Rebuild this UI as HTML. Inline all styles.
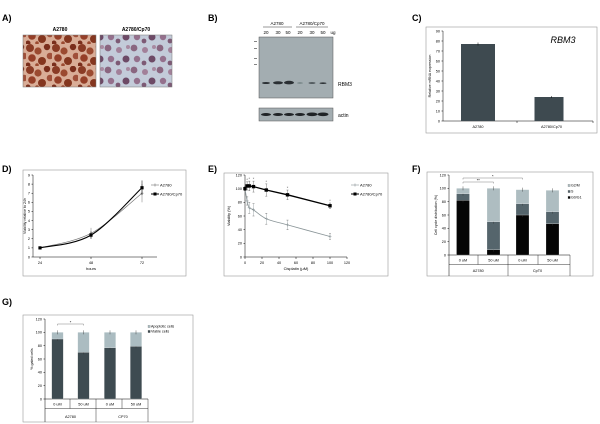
<!DOCTYPE html>
<html><head><meta charset="utf-8"><style>
body{margin:0;background:#fff;width:600px;height:424px;overflow:hidden}
svg{display:block;font-family:"Liberation Sans",sans-serif}
</style></head><body>
<svg id="fig" width="600" height="424" viewBox="0 0 600 424" xmlns="http://www.w3.org/2000/svg">
<defs>
<pattern id="cellsA" width="26" height="22" patternUnits="userSpaceOnUse">
<rect width="26" height="22" fill="#d9ad97"/>
<circle cx="4" cy="4" r="4" fill="#8a3b25"/><circle cx="12" cy="7" r="3.6" fill="#9b4a30"/><circle cx="21" cy="3" r="3.2" fill="#7a2e1c"/>
<circle cx="6" cy="14" r="3.8" fill="#953f28"/><circle cx="16" cy="17" r="4" fill="#84361f"/><circle cx="24" cy="12" r="3.3" fill="#a0503a"/>
<circle cx="2" cy="21" r="2.5" fill="#7a2e1c"/><circle cx="11" cy="21" r="1.8" fill="#9b4a30"/>
</pattern>
<pattern id="cellsB" width="26" height="22" patternUnits="userSpaceOnUse">
<rect width="26" height="22" fill="#c3cbd9"/>
<circle cx="4" cy="4" r="3.4" fill="#8a6680"/><circle cx="15" cy="6" r="3" fill="#a28099"/><circle cx="22" cy="15" r="3.5" fill="#6d4a66"/>
<circle cx="7" cy="15" r="3.2" fill="#94708c"/><circle cx="14" cy="19" r="2.4" fill="#7d5a75"/><circle cx="24" cy="3" r="2" fill="#a88aa1"/>
</pattern>
</defs>
<g font-weight="bold" font-size="9" fill="#000">
<text x="2" y="21">A)</text>
<text x="208" y="21">B)</text>
<text x="412" y="21">C)</text>
<text x="2" y="172">D)</text>
<text x="208" y="172">E)</text>
<text x="412" y="172">F)</text>
<text x="2" y="305">G)</text>
</g>
<g>
<text x="60" y="31" font-size="5" font-weight="bold" text-anchor="middle">A2780</text>
<text x="136" y="31" font-size="5" font-weight="bold" text-anchor="middle">A2780/Cp70</text>
<rect x="23" y="35" width="73" height="52" fill="url(#cellsA)" stroke="#777" stroke-width="0.5"/>
<rect x="100" y="35" width="72" height="52" fill="url(#cellsB)" stroke="#777" stroke-width="0.5"/>
</g>
<g>
<text x="277" y="25" font-size="4.5" text-anchor="middle">A2780</text>
<text x="312" y="25" font-size="4.5" text-anchor="middle">A2780/Cp70</text>
<line x1="263" y1="27" x2="292" y2="27" stroke="#000" stroke-width="0.4"/>
<line x1="296" y1="27" x2="328" y2="27" stroke="#000" stroke-width="0.4"/>
<g font-size="4.5" text-anchor="middle">
<text x="266" y="34">20</text><text x="278" y="34">30</text><text x="288" y="34">50</text><text x="300" y="34">20</text><text x="312" y="34">30</text><text x="323" y="34">50</text><text x="333" y="34">ug</text></g>
<rect x="259" y="37" width="74" height="61" fill="#a3adb1" stroke="#555" stroke-width="0.5"/>
<g fill="#333"><rect x="254" y="41" width="3" height="0.6"/><rect x="254" y="48" width="3" height="0.6"/><rect x="254" y="58" width="3" height="0.6"/><rect x="254" y="64" width="3" height="0.6"/></g>
<g fill="#2a2f33">
<ellipse cx="266" cy="83" rx="4" ry="1"/><ellipse cx="278" cy="82.8" rx="5" ry="1.5"/><ellipse cx="289" cy="82.6" rx="5" ry="1.8"/>
<ellipse cx="300" cy="83" rx="3" ry="0.6" fill="#677"/><ellipse cx="312" cy="83" rx="3.5" ry="0.9" fill="#4a5256"/><ellipse cx="323" cy="83.2" rx="3.5" ry="0.8"/></g>
<text x="338" y="86" font-size="5">RBM3</text>
<rect x="259" y="108" width="74" height="13" fill="#a3adb1" stroke="#555" stroke-width="0.5"/>
<g fill="#1f2326"><ellipse cx="266" cy="114.5" rx="5" ry="1.5"/><ellipse cx="278" cy="114.5" rx="5" ry="1.5"/><ellipse cx="289" cy="114.5" rx="5" ry="1.5"/><ellipse cx="300" cy="114.5" rx="5" ry="1.5"/><ellipse cx="312" cy="114.3" rx="5.5" ry="1.8"/><ellipse cx="323" cy="114.3" rx="5.5" ry="1.8"/></g>
<text x="338" y="117" font-size="5">actin</text>
</g>
<g id="charts"></g>
</svg>
<script>
const cLabels=['A2780','A2780/Cp70'];
const cValues=[77,24];
const cErr=[1.5,1];
const cTicks=[0,10,20,30,40,50,60,70,80,90];
const dHours=[24,48,72];
const dA2780=[1,2.6,7.0];
const dCp70=[1,2.4,7.6];
const dErrA=[0.1,0.6,1.0];
const dErrC=[0.1,0.4,0.8];
const dTicks=[0,1,2,3,4,5,6,7,8,9];
const eDose=[0,2.5,5,10,25,50,100];
const eA2780=[100,82,72,69,56,47,30];
const eCp70=[100,104,104,103,98,91,75];
const eErrA=[2,6,8,9,8,7,4];
const eErrC=[3,6,7,8,9,7,4];
const eTicks=[0,20,40,60,80,100,120];
const fCats=['0 uM','50 uM','0 uM','50 uM'];
const fGroups=['A2780','CpT0'];
const fG0=[82,8,60,47];
const fS=[10,42,17,18];
const fG2=[8,50,21,32];
const fTicks=[0,20,40,60,80,100,120];
const gCats=['0 uM','50 uM','0 uM','50 uM'];
const gGroups=['A2780','CP70'];
const gViable=[90,70,77,79];
const gApop=[10,30,23,21];
const gTicks=[0,20,40,60,80,100,120];

const NS='http://www.w3.org/2000/svg';
const root=document.getElementById('charts');
function mk(tag,a,p){const e=document.createElementNS(NS,tag);for(const k in a)e.setAttribute(k,a[k]);(p||root).appendChild(e);return e;}
function txt(x,y,s,size,anchor,p){const t=mk('text',{x:x,y:y,'font-size':size,'text-anchor':anchor||'middle'},p);t.textContent=s;return t;}
function ln(x1,y1,x2,y2,p,c,w){return mk('line',{x1:x1,y1:y1,x2:x2,y2:y2,stroke:c||'#000','stroke-width':w||0.5},p);}
function yAxis(g,x,sy,ticks,top){ln(x,sy(ticks[0]),x,top,g);ticks.forEach(v=>{ln(x-1.5,sy(v),x,sy(v),g);const t=txt(x-3,sy(v)+1.3,String(v),3.8,'end',g);});}
function smooth(pts){let d='M'+pts[0][0]+','+pts[0][1];for(let i=0;i<pts.length-1;i++){const p0=pts[i-1]||pts[i],p1=pts[i],p2=pts[i+1],p3=pts[i+2]||p2;d+=' C'+(p1[0]+(p2[0]-p0[0])/6)+','+(p1[1]+(p2[1]-p0[1])/6)+' '+(p2[0]-(p3[0]-p1[0])/6)+','+(p2[1]-(p3[1]-p1[1])/6)+' '+p2[0]+','+p2[1];}return d;}

// ---- C ----
(function(){
const g=mk('g',{});


const box=mk('rect',{x:426,y:27,width:171,height:106,fill:'none',stroke:'#999','stroke-width':0.6},g);


const sy=v=>121-v*(90/90);
yAxis(g,443,sy,cTicks,31);
ln(443,121,593,121,g);ln(517,121,517,123,g);ln(593,121,593,123,g);
const xc=[478,551.5];
cValues.forEach((v,i)=>{
const b=mk('rect',{x:xc[i]-17,y:sy(v),width:34-5*i,height:121-sy(v),fill:'#3e4a50'},g);


ln(xc[i],sy(v+cErr[i]),xc[i],sy(v-cErr[i]),g);
const t=txt(xc[i],128,cLabels[i],3.8,'middle',g);


});
const yl=txt(0,0,'Relative mRNA expression',3.6,'middle',g);yl.setAttribute('transform','translate(431,76) rotate(-90)');


const r=txt(563,43,'RBM3',9,'middle',g);r.setAttribute('font-style','italic');


})();

// ---- D ----
(function(){
const g=mk('g',{});


const box=mk('rect',{x:23,y:170,width:163,height:106,fill:'none',stroke:'#999','stroke-width':0.6},g);


const sx=h=>40+(h-24)*(102/48), sy=v=>257-v*(82/9);
yAxis(g,33,sy,dTicks,175);
ln(33,257,157,257,g);
dHours.forEach(h=>{ln(sx(h),257,sx(h),259,g);const t=txt(sx(h),264,String(h),3.8,'middle',g);});
const xt=txt(91,270,'hours',4,'middle',g);


const yt=txt(0,0,'Viability relative to 24h',3.6,'middle',g);yt.setAttribute('transform','translate(26,216) rotate(-90)');


[[dA2780,dErrA,'#777',0.7,'a2780'],[dCp70,dErrC,'#000',1.1,'cp70']].forEach(([vals,err,c,w,n])=>{
const pts=vals.map((v,i)=>[sx(dHours[i]),sy(v)]);
const p=mk('path',{d:smooth(pts),fill:'none',stroke:c,'stroke-width':w},g);


vals.forEach((v,i)=>{ln(sx(dHours[i]),sy(v+err[i]),sx(dHours[i]),sy(v-err[i]),g,c,0.5);
const m=n==='cp70'?mk('rect',{x:sx(dHours[i])-1.6,y:sy(v)-1.6,width:3.2,height:3.2,fill:'#000'},g):mk('path',{d:'M'+(sx(dHours[i])-1.5)+','+sy(v)+'h3M'+sx(dHours[i])+','+(sy(v)-1.5)+'v3',stroke:c,'stroke-width':0.6},g);

});
});
ln(151,185,159,185,g,'#777',0.6);mk('path',{d:'M155,183.5v3',stroke:'#777','stroke-width':0.6},g);
const l1=txt(160,186.5,'A2780',4,'start',g);
ln(151,194,159,194,g,'#000',1);mk('rect',{x:153.5,y:192.5,width:3,height:3},g);
const l2=txt(160,195.5,'A2780/Cp70',4,'start',g);
})();

// ---- E ----
(function(){
const g=mk('g',{});


const box=mk('rect',{x:224,y:173,width:164,height:103,fill:'none',stroke:'#999','stroke-width':0.6},g);


const sx=d=>245+d*(102/120), sy=v=>257-v*(82/120);
yAxis(g,245,sy,eTicks,175);
ln(245,257,347,257,g);
eTicks.forEach(d=>{ln(sx(d),257,sx(d),259,g);const t=txt(sx(d),264,String(d),3.8,'middle',g);});
const xt=txt(296,270,'Cisplatin (µM)',4,'middle',g);


const yt=txt(0,0,'Viability (%)',3.8,'middle',g);yt.setAttribute('transform','translate(230,216) rotate(-90)');


[[eA2780,eErrA,'#8a9598',0.8,'a2780'],[eCp70,eErrC,'#000',1.3,'cp70']].forEach(([vals,err,c,w,n])=>{
const pts=vals.map((v,i)=>[sx(eDose[i]),sy(v)]);
const p=mk('path',{d:n==='a2780'?smooth(pts):'M'+pts.map(q=>q.join(',')).join('L'),fill:'none',stroke:c,'stroke-width':w},g);


vals.forEach((v,i)=>{const x=sx(eDose[i]);ln(x,sy(v+err[i]),x,sy(v-err[i]),g,c==='#000'?'#555':c,0.4);ln(x-1,sy(v+err[i]),x+1,sy(v+err[i]),g,'#555',0.4);ln(x-1,sy(v-err[i]),x+1,sy(v-err[i]),g,'#555',0.4);
const m=n==='cp70'?mk('rect',{x:x-1.7,y:sy(v)-1.7,width:3.4,height:3.4,fill:'#000'},g):mk('path',{d:'M'+(x-1.5)+','+sy(v)+'h3M'+x+','+(sy(v)-1.5)+'v3',stroke:c,'stroke-width':0.6},g);

});
});
eDose.slice(1).forEach((d,i)=>{const t=txt(sx(d),sy(eCp70[i+1]+eErrC[i+1])-1,'*',4,'middle',g);t.setAttribute('fill','#555');});
ln(351,185,359,185,g,'#8a9598',0.6);mk('path',{d:'M355,183.5v3',stroke:'#8a9598','stroke-width':0.6},g);
const l1=txt(360,186.5,'A2780',4,'start',g);
ln(351,194,359,194,g,'#000',1);mk('rect',{x:353.5,y:192.5,width:3,height:3},g);
const l2=txt(360,195.5,'A2780/Cp70',4,'start',g);
})();

// ---- stacked bars helper ----
function stacked(opt){
const g=mk('g',{});


const box=mk('rect',{x:opt.box[0],y:opt.box[1],width:opt.box[2],height:opt.box[3],fill:'none',stroke:'#999','stroke-width':0.6},g);


const y0=opt.y0, sy=v=>y0-v*(80/120);
yAxis(g,opt.ax,sy,opt.ticks,y0-80);
const bottom=opt.box[1]+opt.box[3];
ln(opt.ax,y0,opt.xend,y0,g);ln(opt.ax,y0,opt.ax,bottom,g);
ln(opt.ax,y0+9.5,opt.xend,y0+9.5,g,'#000',0.4);
opt.seps.forEach((x,i)=>ln(x,y0,x,i===1?bottom:y0+9.5,g,'#000',0.4));
ln(opt.xend,y0,opt.xend,bottom,g,'#000',0.4);
opt.cats.forEach((c,i)=>{const t=txt(opt.centers[i],y0+6.5,c,3.8,'middle',g);});
opt.groups.forEach((c,i)=>{const t=txt((opt.centers[2*i]+opt.centers[2*i+1])/2,bottom-4,c,3.8,'middle',g);});
opt.centers.forEach((cx,i)=>{let acc=0;opt.series.forEach(s=>{const v=s.vals[i];
const r=mk('rect',{x:cx-opt.bw/2,y:sy(acc+v),width:opt.bw,height:sy(acc)-sy(acc+v),fill:s.color,stroke:'#fff','stroke-width':0.2},g);


acc+=v;ln(cx,sy(acc)-2,cx,sy(acc)+2,g,'#333',0.4);});});
opt.series.slice().reverse().forEach((s,j)=>{const ly=opt.legY[j];
mk('rect',{x:opt.legX,y:ly-1.6,width:2.2,height:2.2,fill:s.color,stroke:'#555','stroke-width':0.2},g);
const t=txt(opt.legX+3,ly+0.6,s.label,3.6,'start',g);});
const yt=txt(0,0,opt.ylabel,3.6,'middle',g);yt.setAttribute('transform','translate('+(opt.ax-12)+','+(y0-40)+') rotate(-90)');


opt.brackets.forEach(b=>{ln(opt.centers[b[0]],b[2],opt.centers[b[1]],b[2],g,'#666',0.4);ln(opt.centers[b[0]],b[2],opt.centers[b[0]],b[2]+1.5,g,'#666',0.4);ln(opt.centers[b[1]],b[2],opt.centers[b[1]],b[2]+1.5,g,'#666',0.4);txt((opt.centers[b[0]]+opt.centers[b[1]])/2,b[2]-0.3,b[3],4,'middle',g);});
}
stacked({name:'panel-f-chart',box:[427,172,166,104],y0:255,ax:449,xend:570,ticks:fTicks,bw:13,
centers:[463,493.5,522.5,552.5],seps:[478,508,538],cats:fCats,groups:fGroups,
series:[{key:'g0g1',label:'G0/G1',vals:fG0,color:'#050505'},{key:'s',label:'S',vals:fS,color:'#55656c'},{key:'g2m',label:'G2/M',vals:fG2,color:'#aebdc1'}],
legX:568,legY:[186,192,198],ylabel:'Cell cycle distribution (%)',brackets:[[0,1,182,'**'],[0,2,178,'*']]});
stacked({name:'panel-g-chart',box:[23,315,170,107],y0:399,ax:45,xend:148,ticks:gTicks,bw:11.5,
centers:[57.5,83.5,110,136],seps:[70,96,122],cats:gCats,groups:gGroups,
series:[{key:'viable',label:'Viable cells',vals:gViable,color:'#3e4b51'},{key:'apoptotic',label:'Apoptotic cells',vals:gApop,color:'#abbcc1'}],
legX:148,legY:[327,332],ylabel:'% gated cells',brackets:[[0,1,324,'*']]});
</script>
</body></html>
